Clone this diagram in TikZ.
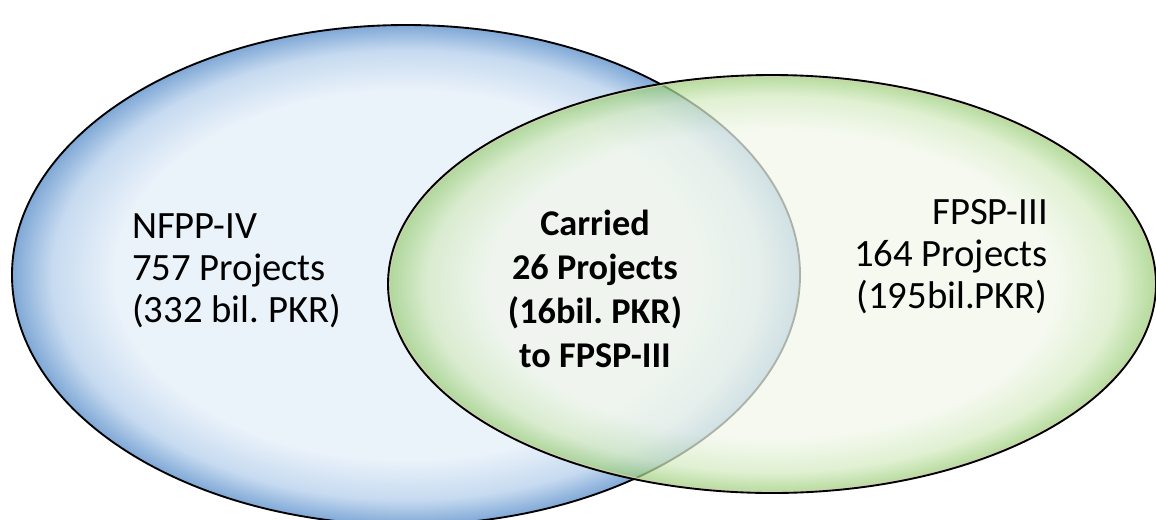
\documentclass[tikz,border=0pt]{standalone}
\usepackage{fontspec}
\setmainfont{Carlito}
\frenchspacing
\definecolor{bluein}{HTML}{EAF2FA}
\definecolor{bluemid}{HTML}{C6DAF0}
\definecolor{blueout}{HTML}{7FA8D6}
\definecolor{greenin}{HTML}{F1F7EA}
\definecolor{greenmid}{HTML}{D4EAC0}
\definecolor{greenout}{HTML}{98CD76}
\definecolor{rimline}{HTML}{D8CDB0}
\pgfdeclareradialshading{blueshade}{\pgfpoint{0bp}{0bp}}{color(0bp)=(bluein); color(18.5bp)=(bluein); color(22.5bp)=(bluemid); color(25bp)=(blueout); color(50bp)=(blueout)}
\pgfdeclareradialshading{greenshade}{\pgfpoint{0bp}{0bp}}{color(0bp)=(greenin); color(18.5bp)=(greenin); color(22.5bp)=(greenmid); color(25bp)=(greenout); color(50bp)=(greenout)}
\tikzset{
  outline/.style={draw=black, line width=1.4pt},
  innerrim/.style={draw=rimline, line width=0.7pt},
  lbl/.style={font=\fontsize{29}{31.5}\selectfont, inner sep=0pt},
  boldlbl/.style={font=\bfseries\fontsize{27.2}{33}\selectfont, inner sep=0pt},
}
\begin{document}
\begin{tikzpicture}[x=0.75pt,y=-0.75pt]
\useasboundingbox (0,0) rectangle (1156,519);
% blue ellipse
\path[shading=blueshade] (406,275) ellipse [x radius=295.5pt, y radius=187.5pt];
\draw[outline] (406,275) ellipse [x radius=295.5pt, y radius=187.5pt];
% green ellipse
\path[shading=greenshade, fill opacity=0.72] (772,284) ellipse [x radius=288pt, y radius=156.75pt];
\draw[innerrim] (772,284) ellipse [x radius=286.7pt, y radius=155.5pt];
\draw[outline] (772,284) ellipse [x radius=288pt, y radius=156.75pt];
% labels
\node[lbl, align=left, anchor=west] (nfpp) at (132,271) {NFPP-IV\\757 Projects\\(332 bil. PKR)};
\node[boldlbl, align=center] (carried) at (595,289) {Carried\\26 Projects\\(16bil. PKR)\\to FPSP-III};
\node[lbl, align=right, anchor=east] (fpsp) at (1048,257) {FPSP-III\\164 Projects\\(195bil.PKR)};
\end{tikzpicture}
\end{document}
